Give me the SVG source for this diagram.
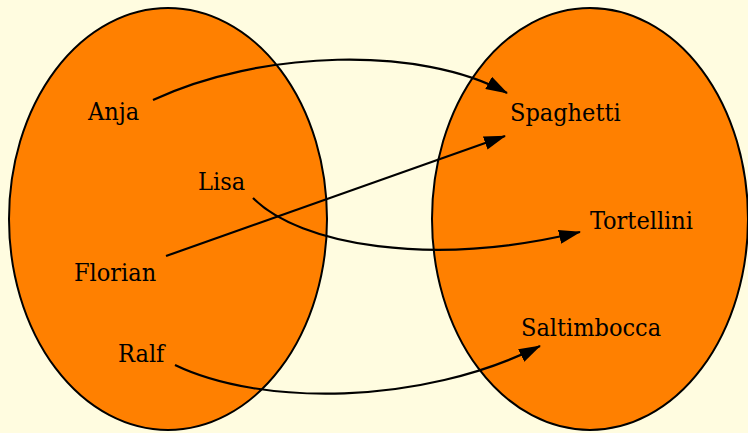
<svg xmlns="http://www.w3.org/2000/svg" width="748" height="433" viewBox="0 0 748 433">
<defs>
<marker id="ah" markerWidth="22" markerHeight="14" refX="21" refY="7" orient="auto" markerUnits="userSpaceOnUse">
<path d="M0,0 L22,7 L0,14 Z" fill="#000"/>
</marker>
<style>
.set{fill:#ff8000;stroke:#000;stroke-width:2}
.lbl{font-family:"DejaVu Serif Condensed","DejaVu Serif","Liberation Serif",serif;font-stretch:condensed;font-size:25px;fill:#000}
.edge{fill:none;stroke:#000;stroke-width:2.2;marker-end:url(#ah)}
</style>
</defs>
<rect width="748" height="433" fill="#fffce0"/>
<g id="set-people"><ellipse class="set" cx="168" cy="219" rx="159" ry="211"/></g>
<g id="set-food"><ellipse class="set" cx="590" cy="219" rx="158" ry="211"/></g>
<g id="anja"><text class="lbl" x="88" y="120">Anja</text></g>
<g id="lisa"><text class="lbl" x="198" y="190">Lisa</text></g>
<g id="florian"><text class="lbl" x="74" y="281">Florian</text></g>
<g id="ralf"><text class="lbl" x="118" y="362">Ralf</text></g>
<g id="spaghetti"><text class="lbl" x="510" y="121">Spaghetti</text></g>
<g id="tortellini"><text class="lbl" x="590" y="229">Tortellini</text></g>
<g id="saltimbocca"><text class="lbl" x="521" y="336">Saltimbocca</text></g>
<g id="connectors">
<path class="edge" d="M153,100 C260,50 420,45 507,93"/>
<path class="edge" d="M166,256 L505,136"/>
<path class="edge" d="M253,198 C300,245 430,268 580,232"/>
<path class="edge" d="M175,365 C260,406 420,406 540,346"/>
</g>
</svg>
